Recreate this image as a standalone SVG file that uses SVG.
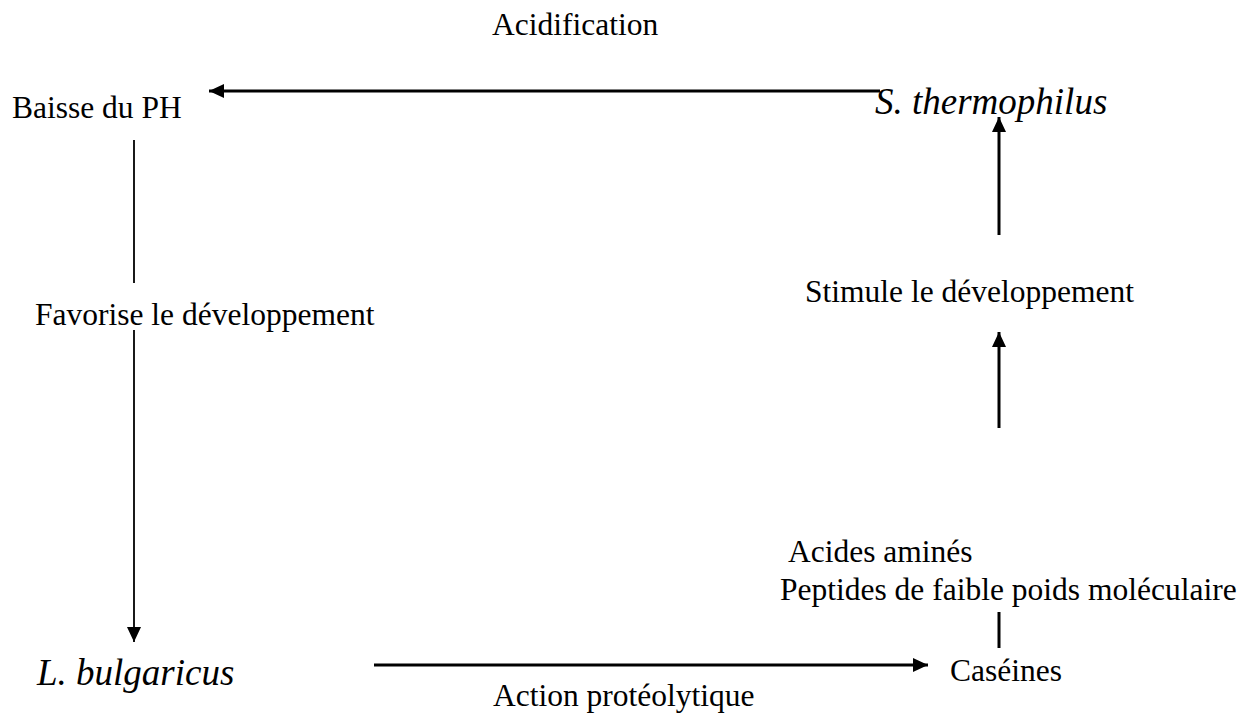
<svg xmlns="http://www.w3.org/2000/svg" width="1252" height="716" viewBox="0 0 1252 716">
<defs>
<style>
.t{font-family:"Liberation Serif","Times New Roman",serif;font-size:31.5px;fill:#000}
.i{font-family:"Liberation Serif","Times New Roman",serif;font-size:37px;font-style:italic;fill:#000}
.ln{stroke:#000;stroke-width:3;fill:none}
.thin{stroke:#000;stroke-width:1.8;fill:none}
</style>
<marker id="ah" markerUnits="userSpaceOnUse" markerWidth="16" markerHeight="16" viewBox="0 0 16 16" refX="15" refY="8" orient="auto">
<polygon points="0,1 15,8 0,15" fill="#000"/>
</marker>
</defs>
<rect width="1252" height="716" fill="#fff"/>
<g id="connectors">
<line class="ln" x1="880" y1="91" x2="209" y2="91" marker-end="url(#ah)"/>
<line class="thin" x1="134" y1="140" x2="134" y2="283"/>
<line class="thin" x1="134" y1="330" x2="134" y2="642" marker-end="url(#ah)"/>
<line class="ln" x1="374" y1="665" x2="928" y2="665" marker-end="url(#ah)"/>
<line class="ln" x1="999" y1="648" x2="999" y2="612"/>
<line class="ln" x1="999" y1="428" x2="999" y2="332" marker-end="url(#ah)"/>
<line class="ln" x1="999" y1="235" x2="999" y2="117" marker-end="url(#ah)"/>
</g>
<g id="acidification"><text class="t" x="492" y="35">Acidification</text></g>
<g id="baisse-ph"><text class="t" x="12" y="118">Baisse du PH</text></g>
<g id="s-thermophilus"><text class="i" x="875" y="114">S. thermophilus</text></g>
<g id="favorise"><text class="t" x="35" y="325">Favorise le développement</text></g>
<g id="l-bulgaricus"><text class="i" x="37" y="685">L. bulgaricus</text></g>
<g id="action"><text class="t" x="493" y="706">Action protéolytique</text></g>
<g id="caseines"><text class="t" x="950" y="681">Caséines</text></g>
<g id="acides"><text class="t" x="788" y="562">Acides aminés</text></g>
<g id="peptides"><text class="t" x="780" y="600">Peptides de faible poids moléculaire</text></g>
<g id="stimule"><text class="t" x="805" y="302">Stimule le développement</text></g>
</svg>
